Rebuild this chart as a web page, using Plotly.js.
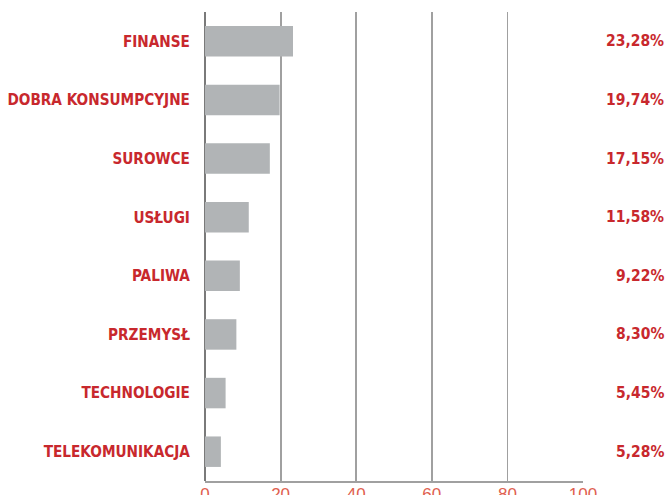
<!DOCTYPE html>
<html><head><meta charset="utf-8">
<script src="https://cdn.plot.ly/plotly-3.0.1.min.js"></script>
<style>html,body{margin:0;padding:0;background:#fff}#chart{width:669px;height:495px}</style>
</head><body><div id="chart"></div>
<script>
const categories = ["FINANSE","DOBRA KONSUMPCYJNE","SUROWCE","USŁUGI","PALIWA","PRZEMYSŁ","TECHNOLOGIE","TELEKOMUNIKACJA"];
const shareLabels = ["23,28%","19,74%","17,15%","11,58%","9,22%","8,30%","5,45%","5,28%"];
const barValues = [23.28,19.74,17.15,11.58,9.22,8.30,5.45,4.2];
const xTicks = [0,20,40,60,80,100];

const red = "#c8282d";
const labelFont = {family: "DejaVu Sans Condensed, sans-serif", size: 15.2, color: red, weight: 700};

const trace = {
  type: "bar", orientation: "h",
  x: barValues, y: categories,
  marker: {color: "#b1b4b6"},
  width: 0.52,
  hoverinfo: "none"
};

const annotations = categories.map((c, i) => ({
  xref: "paper", yref: "y", x: 1.22, y: c, xanchor: "right", yanchor: "middle",
  text: "<b>" + shareLabels[i] + "</b>", showarrow: false,
  font: {family: "DejaVu Sans Condensed, sans-serif", size: 15.5, color: red}
}));

const layout = {
  width: 669, height: 495,
  margin: {l: 205, r: 86, t: 12, b: 14},
  paper_bgcolor: "#fff", plot_bgcolor: "#fff",
  showlegend: false,
  xaxis: {
    range: [0, 100], tickvals: xTicks, ticktext: xTicks.map(String),
    showgrid: true, gridcolor: "#a0a0a0", gridwidth: 1.8,
    zeroline: true, zerolinecolor: "#7a7a7a", zerolinewidth: 2,
    showline: true, linecolor: "#a0a0a0", linewidth: 1.8,
    ticks: "", fixedrange: true, ticklabelstandoff: -3,
    tickfont: {family: "Liberation Sans, sans-serif", size: 17, color: "#e0604f"}
  },
  yaxis: {
    autorange: "reversed", type: "category",
    ticks: "outside", ticklen: 11, tickcolor: "rgba(0,0,0,0)",
    tickfont: labelFont, showline: false, showgrid: false, zeroline: false,
    fixedrange: true
  },
  annotations: annotations
};

Plotly.newPlot("chart", [trace], layout, {displayModeBar: false, staticPlot: true});
</script></body></html>
